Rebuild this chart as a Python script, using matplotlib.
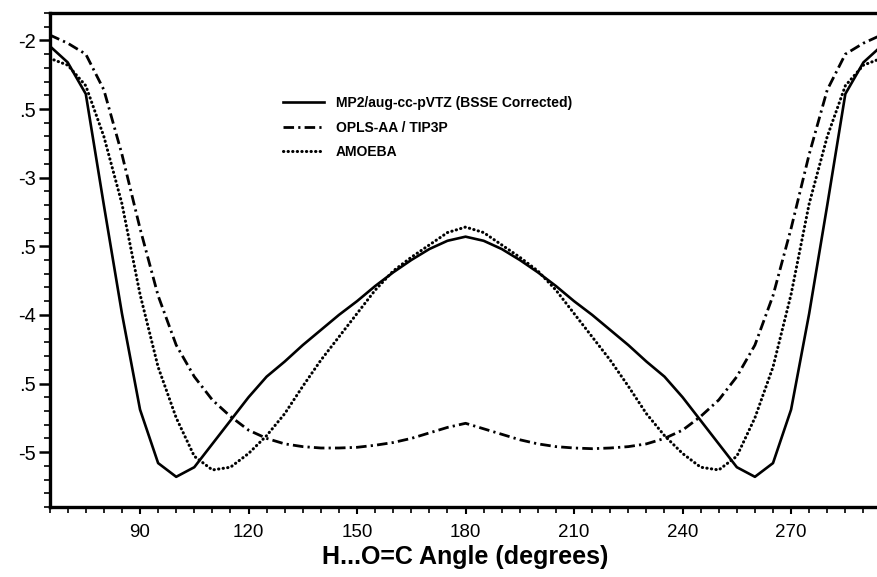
import matplotlib
matplotlib.use("Agg")
import matplotlib.pyplot as plt
from matplotlib.ticker import FixedLocator, MultipleLocator

plt.rcParams['font.family'] = ['Liberation Sans', 'DejaVu Sans']

angle = [65, 70, 75, 80, 85, 90, 95, 100, 105, 110, 115, 120, 125, 130, 135, 140, 145, 150,
         155, 160, 165, 170, 175, 180, 185, 190, 195, 200, 205, 210, 215, 220, 225, 230,
         235, 240, 245, 250, 255, 260, 265, 270, 275, 280, 285, 290, 295]

mp2 = [-2.04, -2.16, -2.39, -3.20, -3.99, -4.69, -5.08, -5.18, -5.11, -4.94, -4.77, -4.60,
       -4.45, -4.34, -4.22, -4.11, -4.00, -3.90, -3.79, -3.69, -3.60, -3.52, -3.46, -3.43,
       -3.46, -3.52, -3.60, -3.69, -3.79, -3.90, -4.00, -4.11, -4.22, -4.34, -4.45, -4.60,
       -4.77, -4.94, -5.11, -5.18, -5.08, -4.69, -3.99, -3.20, -2.39, -2.16, -2.04]

opls = [-1.96, -2.02, -2.10, -2.36, -2.83, -3.37, -3.86, -4.22, -4.45, -4.62, -4.74, -4.84,
        -4.90, -4.94, -4.96, -4.97, -4.97, -4.965, -4.95, -4.93, -4.90, -4.86, -4.82, -4.79,
        -4.83, -4.87, -4.91, -4.94, -4.96, -4.97, -4.975, -4.97, -4.96, -4.94, -4.90, -4.84,
        -4.74, -4.62, -4.45, -4.22, -3.86, -3.37, -2.83, -2.36, -2.10, -2.02, -1.96]

amoeba = [-2.13, -2.18, -2.33, -2.70, -3.19, -3.85, -4.38, -4.75, -5.03, -5.13, -5.11, -5.01,
          -4.88, -4.72, -4.52, -4.33, -4.16, -3.99, -3.82, -3.68, -3.58, -3.49, -3.40, -3.36,
          -3.40, -3.49, -3.58, -3.68, -3.82, -3.99, -4.16, -4.33, -4.52, -4.72, -4.88, -5.01,
          -5.11, -5.13, -5.03, -4.75, -4.38, -3.85, -3.19, -2.70, -2.33, -2.18, -2.13]

x_ticks = [90, 120, 150, 180, 210, 240, 270]
x_tick_labels = ["90", "120", "150", "180", "210", "240", "270"]
y_ticks = [-2.0, -2.5, -3.0, -3.5, -4.0, -4.5, -5.0]
y_tick_labels = ["-2", ".5", "-3", ".5", "-4", ".5", "-5"]

labels = ["MP2/aug-cc-pVTZ (BSSE Corrected)", "OPLS-AA / TIP3P", "AMOEBA"]

fig = plt.figure(figsize=(8.78, 5.77), dpi=100)
ax = fig.add_axes([0.0565, 0.1213, 0.9475, 0.8562])

ax.plot(angle, mp2, color='black', lw=1.9, linestyle='-', label=labels[0])
ax.plot(angle, opls, color='black', lw=2.0, linestyle=(0, (3.8, 1.5, 0.8, 1.5)),
        label=labels[1])
ax.plot(angle, amoeba, color='black', lw=2.2, linestyle=(0, (0.1, 1.4)),
        dash_capstyle='round', label=labels[2])

ax.set_xlim(65, 295)
ax.set_ylim(-5.4, -1.8)

ax.xaxis.set_major_locator(FixedLocator(x_ticks))
ax.set_xticklabels(x_tick_labels)
ax.xaxis.set_minor_locator(MultipleLocator(5))
ax.yaxis.set_major_locator(FixedLocator(y_ticks))
ax.set_yticklabels(y_tick_labels)
ax.yaxis.set_minor_locator(MultipleLocator(0.1))

ax.tick_params(axis='x', which='major', direction='out', length=5, width=1.5,
               labelsize=13.5, pad=7)
ax.tick_params(axis='x', which='minor', direction='out', length=4, width=1.2)
ax.tick_params(axis='y', which='major', direction='out', length=8, width=1.8,
               labelsize=14.5, pad=2)
ax.tick_params(axis='y', which='minor', direction='out', length=4.5, width=1.2)

for s in ['left', 'bottom', 'top']:
    ax.spines[s].set_linewidth(2.4)
ax.spines['right'].set_visible(False)

ax.set_xlabel("H...O=C Angle (degrees)", fontsize=18, fontweight='bold', labelpad=3)

leg = ax.legend(loc='upper left', bbox_to_anchor=(0.265, 0.857), frameon=False,
                prop={'weight': 'bold', 'size': 10}, handlelength=3.0,
                handletextpad=0.85, labelspacing=0.75)

fig.savefig("out.png", dpi=100)
